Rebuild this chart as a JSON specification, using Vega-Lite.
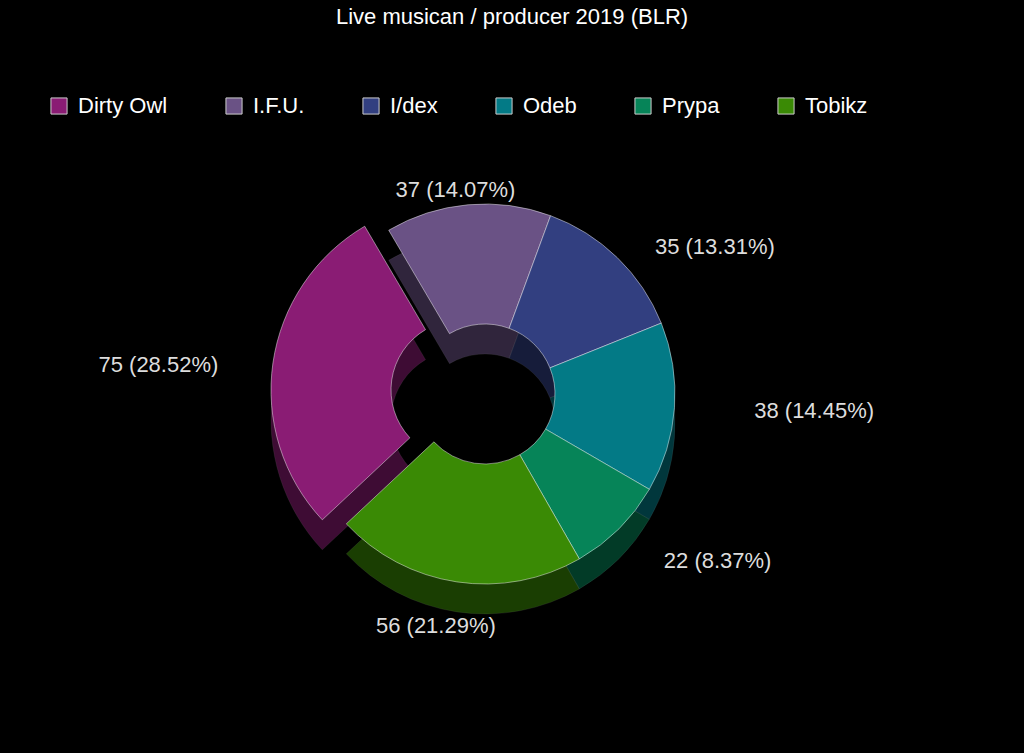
{
  "$schema": "https://vega.github.io/schema/vega-lite/v6.json",
  "width": 1024,
  "height": 753,
  "autosize": {"type": "fit", "contains": "padding"},
  "padding": {"top": 6, "left": 0, "right": 54, "bottom": 0},
  "background": "#000000",
  "title": {
    "text": "Live musican / producer 2019 (BLR)",
    "color": "#ffffff",
    "font": "Liberation Sans",
    "fontSize": 22,
    "fontWeight": "normal",
    "anchor": "middle",
    "dx": 27,
    "offset": 6
  },
  "data": {
    "values": [
      {"order": 1, "name": "Dirty Owl", "value": 75, "label": "75 (28.52%)"},
      {"order": 2, "name": "I.F.U.", "value": 37, "label": "37 (14.07%)"},
      {"order": 3, "name": "I/dex", "value": 35, "label": "35 (13.31%)"},
      {"order": 4, "name": "Odeb", "value": 38, "label": "38 (14.45%)"},
      {"order": 5, "name": "Prypa", "value": 22, "label": "22 (8.37%)"},
      {"order": 6, "name": "Tobikz", "value": 56, "label": "56 (21.29%)"}
    ]
  },
  "transform": [
    {"stack": "value", "groupby": [], "sort": [{"field": "order", "order": "ascending"}], "as": ["v0", "v1"]}
  ],
  "layer": [
    {
      "transform": [{"filter": "datum.name != 'Dirty Owl'"}],
      "mark": {"type": "arc", "outerRadius": 190, "innerRadius": 70, "yOffset": 30, "opacity": 0.45, "stroke": "#ffffff", "strokeOpacity": 0.15},
      "encoding": {
        "theta": {"field": "v0", "type": "quantitative", "scale": {"domain": [0, 263], "range": [3.96, 10.243]}},
        "theta2": {"field": "v1"},
        "color": {"field": "name", "type": "nominal"}
      }
    },
    {
      "transform": [{"filter": "datum.name == 'Dirty Owl'"}],
      "mark": {"type": "arc", "outerRadius": 190, "innerRadius": 70, "xOffset": -24, "yOffset": 26, "opacity": 0.45, "stroke": "#ffffff", "strokeOpacity": 0.15},
      "encoding": {
        "theta": {"field": "v0", "type": "quantitative"},
        "theta2": {"field": "v1"},
        "color": {"field": "name", "type": "nominal"}
      }
    },
    {
      "transform": [{"filter": "datum.name != 'Dirty Owl'"}],
      "mark": {"type": "arc", "outerRadius": 190, "innerRadius": 70, "stroke": "#ffffff", "strokeOpacity": 0.45, "strokeWidth": 1},
      "encoding": {
        "theta": {"field": "v0", "type": "quantitative"},
        "theta2": {"field": "v1"},
        "color": {"field": "name", "type": "nominal"}
      }
    },
    {
      "transform": [{"filter": "datum.name == 'Dirty Owl'"}],
      "mark": {"type": "arc", "outerRadius": 190, "innerRadius": 70, "xOffset": -24, "yOffset": -4, "stroke": "#ffffff", "strokeOpacity": 0.45, "strokeWidth": 1},
      "encoding": {
        "theta": {"field": "v0", "type": "quantitative"},
        "theta2": {"field": "v1"},
        "color": {"field": "name", "type": "nominal"}
      }
    },
    {
      "mark": {
        "type": "text",
        "radius": {"expr": "sqrt(pow(330*sin(3.96+PI*(datum.v0+datum.v1)/263),2)+pow((cos(3.96+PI*(datum.v0+datum.v1)/263)>0?205:235)*cos(3.96+PI*(datum.v0+datum.v1)/263),2))"},
        "thetaOffset": {"expr": "((atan2(330*sin(3.96+PI*(datum.v0+datum.v1)/263),(cos(3.96+PI*(datum.v0+datum.v1)/263)>0?205:235)*cos(3.96+PI*(datum.v0+datum.v1)/263))-(3.96+PI*(datum.v0+datum.v1)/263))%(2*PI)+3*PI)%(2*PI)-PI"},
        "font": "Liberation Sans",
        "fontSize": 22,
        "fill": "#dddddd"
      },
      "encoding": {
        "theta": {"field": "value", "type": "quantitative", "stack": true},
        "order": {"field": "order", "type": "quantitative"},
        "text": {"field": "label", "type": "nominal"}
      }
    }
  ],
  "encoding": {},
  "config": {
    "view": {"stroke": null},
    "range": {
      "category": ["#8a1c74", "#6a5285", "#323f80", "#037a86", "#068458", "#3a8a05"]
    },
    "legend": {
      "orient": "none",
      "legendX": 48,
      "legendY": 60,
      "direction": "horizontal",
      "columns": 6,
      "columnPadding": 55,
      "title": null,
      "symbolType": "square",
      "symbolSize": 260,
      "symbolStrokeColor": "#cccccc",
      "symbolStrokeWidth": 1,
      "symbolOpacity": 1,
      "labelColor": "#ffffff",
      "labelFont": "Liberation Sans",
      "labelFontSize": 22,
      "labelOffset": 8
    }
  }
}
